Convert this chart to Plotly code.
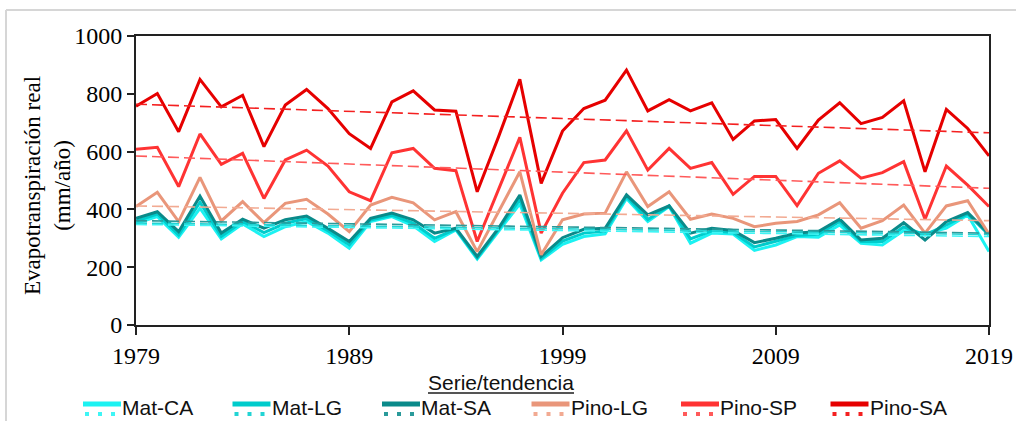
import plotly.graph_objects as go

years = list(range(1979, 2020))

mat_ca = [352, 375, 304, 404, 298, 350, 306, 340, 358, 318, 266, 358, 375, 343, 289, 329, 228, 323, 419, 225,
          279, 306, 315, 438, 358, 410, 283, 318, 315, 258, 277, 306, 304, 346, 283, 277, 327, 315, 335, 381, 254]
mat_lg = [360, 384, 312, 425, 307, 358, 320, 352, 368, 326, 278, 363, 380, 353, 300, 332, 232, 330, 435, 230,
          290, 318, 325, 445, 365, 412, 298, 326, 320, 270, 290, 310, 314, 358, 289, 289, 339, 312, 346, 384, 312]
mat_sa = [369, 392, 323, 446, 318, 366, 335, 364, 377, 335, 289, 369, 387, 364, 318, 335, 237, 335, 450, 237,
          302, 331, 335, 450, 381, 412, 318, 335, 327, 285, 300, 318, 323, 366, 294, 300, 354, 294, 358, 389, 315]
pino_lg = [410, 459, 358, 511, 360, 427, 354, 421, 435, 384, 323, 415, 442, 423, 364, 392, 254, 392, 530, 243,
           364, 384, 387, 530, 410, 461, 366, 384, 369, 340, 352, 358, 381, 423, 335, 361, 415, 318, 412, 430, 315]
pino_sp = [608, 615, 479, 661, 556, 594, 438, 571, 605, 550, 461, 430, 596, 611, 542, 534, 289, 467, 649, 318,
           456, 562, 571, 672, 536, 611, 542, 562, 452, 514, 514, 413, 525, 568, 508, 527, 565, 366, 550, 484, 410]
pino_sa = [757, 801, 669, 850, 755, 795, 617, 761, 815, 749, 662, 611, 772, 810, 744, 740, 461, 651, 850, 490,
           671, 749, 778, 882, 741, 780, 741, 769, 642, 706, 711, 611, 709, 769, 697, 718, 776, 530, 746, 680, 585]

names = ["Mat-CA", "Mat-LG", "Mat-SA", "Pino-LG", "Pino-SP", "Pino-SA"]
series = [mat_ca, mat_lg, mat_sa, pino_lg, pino_sp, pino_sa]
# linear trend values read at 1979 and 2019
trend_years = [1979, 2019]
trend_start = [348, 353, 361, 412, 585, 764]
trend_end = [306, 313, 318, 361, 473, 665]

colors = ["#1CF2F2", "#00CCCC", "#0A8A8A", "#E9967A", "#FF3333", "#E60000"]
trend_colors = ["#3FF5F5", "#22D4D4", "#2A9A9A", "#F2AA92", "#FF5A5A", "#F42020"]

fig = go.Figure()
for name, vals, c in zip(names, series, colors):
    fig.add_trace(go.Scatter(x=years, y=vals, mode="lines", name=name,
                             line=dict(color=c, width=3)))
for name, s, e, c in zip(names, trend_start, trend_end, trend_colors):
    fig.add_trace(go.Scatter(x=trend_years, y=[s, e], mode="lines", name=name + " tendencia",
                             line=dict(color=c, width=1.6, dash="11px,5px")))

# pixel geometry helpers for decorations
L, R, T, B = 136, 27, 36, 96
W, H = 1016, 421
pw, ph = W - L - R, H - T - B


def px(x):
    return (x - L) / pw


def py(y):
    return (H - B - y) / ph


shapes = []
annotations = []

# outer light frame (top and left edges visible)
shapes.append(dict(type="line", xref="paper", yref="paper", x0=px(6), x1=px(W), y0=py(10), y1=py(10),
                   line=dict(color="#D6D6D6", width=2), layer="below"))
shapes.append(dict(type="line", xref="paper", yref="paper", x0=px(6), x1=px(6), y0=py(10), y1=py(H),
                   line=dict(color="#D6D6D6", width=2), layer="below"))

# y axis title
annotations.append(dict(xref="paper", yref="paper", x=px(47), y=py(186), text="Evapotranspiración real<br>(mm/año)",
                        textangle=-90, showarrow=False, xanchor="center", yanchor="middle",
                        font=dict(family="Liberation Serif", size=23, color="black")))

LEG_FONT = "Liberation Sans"

# legend title
annotations.append(dict(xref="paper", yref="paper", x=px(501), y=py(382), text="Serie/tendencia",
                        showarrow=False, xanchor="center", yanchor="middle",
                        font=dict(family=LEG_FONT, size=21, color="#111111")))
shapes.append(dict(type="line", xref="paper", yref="paper", x0=px(428), x1=px(574), y0=py(393), y1=py(393),
                   line=dict(color="#555555", width=2)))

for i, (name, c, tc) in enumerate(zip(names, colors, trend_colors)):
    x0 = 83 + i * 149.5
    shapes.append(dict(type="line", xref="paper", yref="paper", x0=px(x0), x1=px(x0 + 38), y0=py(404), y1=py(404),
                       line=dict(color=c, width=5)))
    shapes.append(dict(type="line", xref="paper", yref="paper", x0=px(x0 + 2), x1=px(x0 + 38), y0=py(414), y1=py(414),
                       line=dict(color=tc, width=4, dash="4px,9px")))
    annotations.append(dict(xref="paper", yref="paper", x=px(x0 + 37), y=py(407), text=name, showarrow=False,
                            xanchor="left", yanchor="middle",
                            font=dict(family=LEG_FONT, size=21, color="#111111")))

axis_common = dict(showgrid=False, zeroline=False, showline=True, linecolor="#222222", linewidth=2, mirror=True,
                   ticks="outside", tickwidth=2, tickcolor="#222222", automargin=False,
                   tickfont=dict(family="Liberation Serif", size=24, color="black"))

fig.update_layout(
    width=W, height=H, margin=dict(l=L, r=R, t=T, b=B, autoexpand=False),
    plot_bgcolor="white", paper_bgcolor="white", showlegend=False,
    xaxis=dict(range=[1979, 2019], tickvals=[1979, 1989, 1999, 2009, 2019], ticklen=8, **axis_common),
    yaxis=dict(range=[0, 1000], tickvals=[0, 200, 400, 600, 800, 1000], ticklen=7, **axis_common),
    shapes=shapes, annotations=annotations,
)

fig.write_html(
    "out.html",
    config={"displayModeBar": False},
    post_script="document.documentElement.style.overflow='hidden';"
                "document.body.style.margin='0';document.body.style.overflow='hidden';",
)
